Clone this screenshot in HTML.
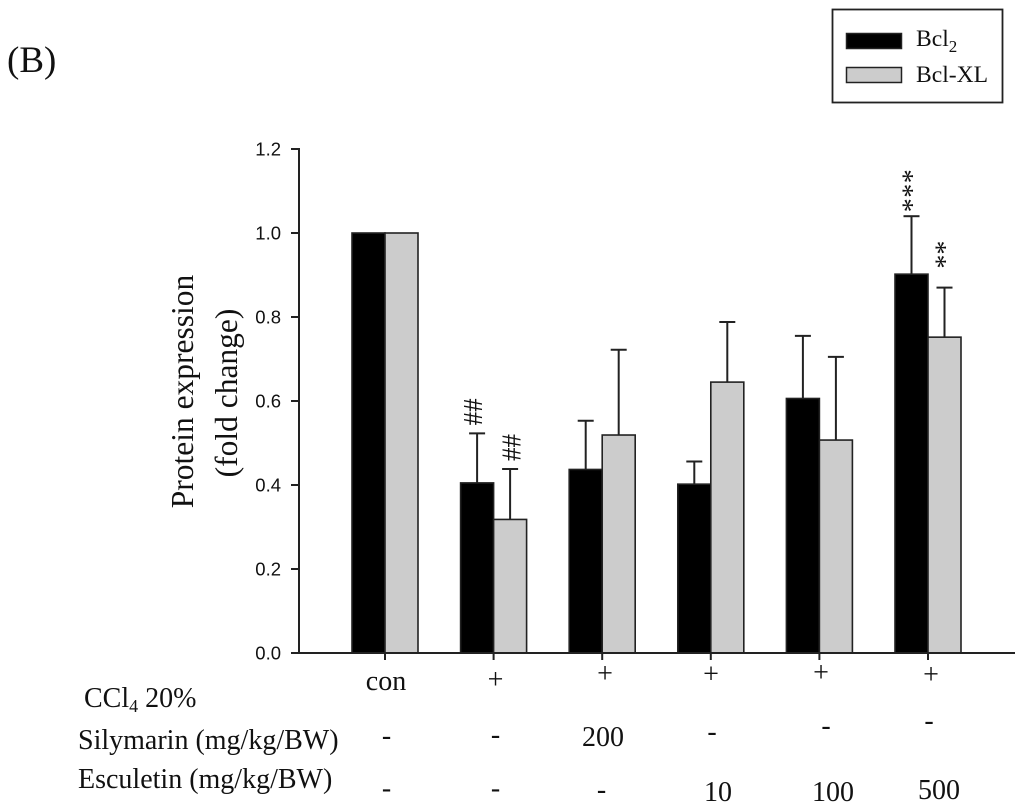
<!DOCTYPE html>
<html>
<head>
<meta charset="utf-8">
<style>
html,body{margin:0;padding:0;background:#fff;}
svg{display:block;}
text{font-family:"Liberation Serif",serif;fill:#111;}
.tick{font-family:"Liberation Sans",sans-serif;font-size:18.5px;text-anchor:end;}
.row{font-size:28px;}
.mid{text-anchor:middle;}
</style>
</head>
<body>
<svg id="chart" width="1024" height="811" viewBox="0 0 1024 811" xmlns="http://www.w3.org/2000/svg">
  <text x="7" y="72" font-size="37">(B)</text>

  <g>
    <rect x="832.5" y="9.5" width="170" height="93" fill="#fff" stroke="#222" stroke-width="1.8"/>
    <rect x="846.5" y="33.5" width="55" height="15" fill="#000" stroke="#222" stroke-width="1.5"/>
    <text x="916" y="46" font-size="23.6">Bcl<tspan font-size="17" dy="6">2</tspan></text>
    <rect x="846.5" y="67.5" width="55" height="15" fill="#ccc" stroke="#222" stroke-width="1.5"/>
    <text x="916" y="82" font-size="23.6">Bcl-XL</text>
  </g>

  <text transform="translate(193 391.5) rotate(-90)" class="mid" font-size="31.5">Protein expression</text>
  <text transform="translate(237 393) rotate(-90)" class="mid" font-size="31.5">(fold change)</text>

  <g id="plot"></g>

  <g>
    <text class="row" x="84" y="707">CCl<tspan font-size="18" dy="5">4</tspan><tspan dy="-5"> 20%</tspan></text>
    <text class="row" x="78" y="749">Silymarin (mg/kg/BW)</text>
    <text class="row" x="78" y="788">Esculetin (mg/kg/BW)</text>

    <text class="row mid" x="386" y="690">con</text>
    <text class="row mid" x="495.5" y="688.5">+</text>
    <text class="row mid" x="605" y="682.5">+</text>
    <text class="row mid" x="711" y="683">+</text>
    <text class="row mid" x="821" y="681.5">+</text>
    <text class="row mid" x="931" y="683.5">+</text>

    <text class="row mid" x="386.5" y="744.5">-</text>
    <text class="row mid" x="495.5" y="743.5">-</text>
    <text class="row mid" x="603" y="746">200</text>
    <text class="row mid" x="712" y="740.5">-</text>
    <text class="row mid" x="826" y="734.5">-</text>
    <text class="row mid" x="929" y="729.5">-</text>

    <text class="row mid" x="386.5" y="797">-</text>
    <text class="row mid" x="495.5" y="797">-</text>
    <text class="row mid" x="601.5" y="798.5">-</text>
    <text class="row mid" x="718" y="801">10</text>
    <text class="row mid" x="833" y="801">100</text>
    <text class="row mid" x="939" y="799">500</text>
  </g>
</svg>
<script>
const categories = ['con', 'ccl4', 'silymarin-200', 'esculetin-10', 'esculetin-100', 'esculetin-500'];
const bcl2Values = [1.0, 0.405, 0.437, 0.402, 0.606, 0.902];
const bcl2Errors = [0, 0.118, 0.116, 0.054, 0.149, 0.138];
const bclXlValues = [1.0, 0.318, 0.519, 0.645, 0.507, 0.752];
const bclXlErrors = [0, 0.120, 0.203, 0.143, 0.198, 0.118];
const yTicks = ['0.0', '0.2', '0.4', '0.6', '0.8', '1.0', '1.2'];

const NS = 'http://www.w3.org/2000/svg';
const plot = document.getElementById('plot');
const yScale = v => 653 - v * 420;
const xScale = i => 385 + i * 108.6;
const BAR_W = 33;
const INK = '#222';
const LINE_W = 2;

function make(tag, attrs) {
  const el = document.createElementNS(NS, tag);
  for (const k in attrs) el.setAttribute(k, attrs[k]);
  plot.appendChild(el);
  return el;
}

function drawSeries(values, errors, fill, side, key) {
  values.forEach((v, i) => {
    const x0 = side < 0 ? xScale(i) - BAR_W : xScale(i);
    const cx = x0 + BAR_W / 2;
    const top = yScale(v + errors[i]);
    if (errors[i] > 0) {
      const stem = make('line', {x1: cx, x2: cx, y1: yScale(v), y2: top, stroke: INK, 'stroke-width': LINE_W});
      
      
      const cap = make('line', {x1: cx - 8, x2: cx + 8, y1: top, y2: top, stroke: INK, 'stroke-width': LINE_W});
      
      
    }
    const bar = make('rect', {x: x0, y: yScale(v), width: BAR_W, height: yScale(0) - yScale(v), fill: fill, stroke: INK, 'stroke-width': 1.6});
    
    
  });
}

drawSeries(bcl2Values, bcl2Errors, '#000', -1, 'bcl2');
drawSeries(bclXlValues, bclXlErrors, '#ccc', 1, 'bcl-xl');

const yAxis = make('line', {x1: 299, x2: 299, y1: yScale(1.2) - 1, y2: yScale(0) + 1, stroke: INK, 'stroke-width': LINE_W});


const xAxis = make('line', {x1: 299, x2: 1015, y1: yScale(0), y2: yScale(0), stroke: INK, 'stroke-width': LINE_W});



yTicks.forEach(t => {
  const y = yScale(parseFloat(t));
  const mark = make('line', {x1: 291, x2: 299, y1: y, y2: y, stroke: INK, 'stroke-width': LINE_W});
  
  
  const label = make('text', {x: 281, y: y + 6.5, class: 'tick'});
  
  
  label.textContent = t;
});

categories.forEach((c, i) => {
  const mark = make('line', {x1: xScale(i), x2: xScale(i), y1: yScale(0), y2: yScale(0) + 7, stroke: INK, 'stroke-width': LINE_W});
  
  
});

function annotate(i, values, errors, side, glyphs, dx, gap, baselineShift, size, spacing) {
  const cx = xScale(i) + side * BAR_W / 2 + dx;
  const y = yScale(values[i] + errors[i]) - gap;
  const note = make('text', {transform: 'translate(' + (cx + baselineShift) + ' ' + y + ') rotate(-90)', 'font-size': size, 'letter-spacing': spacing});
  
  
  note.textContent = glyphs;
}

annotate(1, bcl2Values, bcl2Errors, -1, '##', -4, 8, 9, 27, 0);
annotate(1, bclXlValues, bclXlErrors, 1, '##', 1.5, 8, 9, 27, 0);
annotate(5, bcl2Values, bcl2Errors, -1, '***', -3, 4, 13, 28, 0.5);
annotate(5, bclXlValues, bclXlErrors, 1, '**', -3, 19, 13, 28, 0);
</script>
</body>
</html>
